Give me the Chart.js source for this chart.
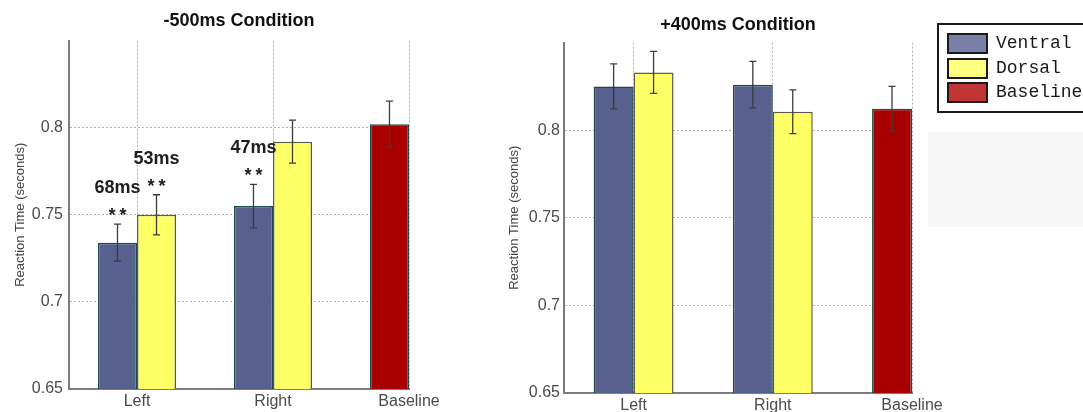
<!DOCTYPE html>
<html>
<head>
<meta charset="utf-8">
<script src="https://cdn.jsdelivr.net/npm/chart.js@4.4.1/dist/chart.umd.min.js"></script>
<style>
    body { margin: 0; background: #fff; width: 1083px; height: 412px; overflow: hidden; position: relative; }
    canvas { position: absolute; top: 0; }
    #early { left: 0; }
    #late { left: 480px; }
    #legend { position: absolute; left: 937px; top: 23px; width: 170px; height: 86px; border: 2px solid #1a1a1a; background: #fff; }
    #legend .sw { position: absolute; left: 8px; width: 37px; height: 17px; border: 2px solid #1a1a1a; }
    #legend .txt { position: absolute; left: 57px; font: 18px "Liberation Mono", "Courier New", monospace; color: #1a1a1a; line-height: 21px; }
    #shade { position: absolute; left: 928px; top: 132px; width: 160px; height: 95px; background: #f7f7f7; }
</style>
</head>
<body>
<canvas id="early" width="480" height="412"></canvas>
<canvas id="late" width="490" height="412"></canvas>
<div id="shade"></div>
<div id="legend"></div>

<script>
const categories = ['Left', 'Right', 'Baseline'];
const seriesNames = ['Ventral', 'Dorsal', 'Baseline'];
const yTicks = [0.65, 0.7, 0.75, 0.8];

// -500ms condition (reaction time in seconds, error = half bar length)
const earlyVentral = [0.734, 0.755];
const earlyVentralErr = [0.0106, 0.0125];
const earlyDorsal = [0.750, 0.792];
const earlyDorsalErr = [0.0115, 0.0123];
const earlyBaseline = [0.802];
const earlyBaselineErr = [0.0133];

// +400ms condition
const lateVentral = [0.825, 0.826];
const lateVentralErr = [0.0128, 0.0133];
const lateDorsal = [0.833, 0.8105];
const lateDorsalErr = [0.012, 0.0125];
const lateBaseline = [0.8123];
const lateBaselineErr = [0.0127];

// significance notes on the -500ms panel
const noteSeries = ['Ventral', 'Dorsal', 'Ventral'];
const noteCategory = ['Left', 'Left', 'Right'];
const noteDiff = ['68ms', '53ms', '47ms'];
const noteMark = ['**', '**', '**'];

const barColors = ['#57608e', '#ffff66', '#a80000'];
const barBorders = ['#1d4a48', '#5a5a4a', '#1d4a48'];
const legendColors = ['#7880aa', '#ffff80', '#c03535'];

function buildDatasets(ventral, ventralErr, dorsal, dorsalErr, baseline, baselineErr) {
    return [
        { label: seriesNames[0], stack: 'a', data: ventral.map((v, i) => ({x: i + 1, y: v})), errors: ventralErr },
        { label: seriesNames[1], stack: 'b', data: dorsal.map((v, i) => ({x: i + 1, y: v})), errors: dorsalErr },
        { label: seriesNames[2], stack: 'a', data: baseline.map(v => ({x: 3, y: v})), errors: baselineErr },
    ].map((ds, i) => Object.assign(ds, {
        backgroundColor: barColors[i],
        borderColor: barBorders[i],
        borderWidth: 1.5,
        categoryPercentage: 0.574,
        barPercentage: 1,
    }));
}

// Draw the error bars and the ms / ** notes on top of the bars
const errorBars = {
    id: 'errorBars',
    afterDatasetsDraw(chart, args, opts) {
        const ctx = chart.ctx;
        const y = chart.scales.y;
        const tops = {};
        chart.data.datasets.forEach((ds, di) => {
            chart.getDatasetMeta(di).data.forEach((bar, i) => {
                const v = ds.data[i].y;
                const e = ds.errors[i];
                const top = y.getPixelForValue(v + e);
                const bot = y.getPixelForValue(v - e);
                ctx.save();
                ctx.strokeStyle = '#3c3c3c';
                ctx.lineWidth = 1.3;
                ctx.beginPath();
                ctx.moveTo(bar.x, top); ctx.lineTo(bar.x, bot);
                ctx.moveTo(bar.x - 3.5, top); ctx.lineTo(bar.x + 3.5, top);
                ctx.moveTo(bar.x - 3.5, bot); ctx.lineTo(bar.x + 3.5, bot);
                ctx.stroke();
                ctx.restore();
                tops[ds.label + '|' + categories[ds.data[i].x - 1]] = {x: bar.x, y: top};
            });
        });
        if (!opts.notes) return;
        ctx.save();
        ctx.fillStyle = '#1e1e1e';
        ctx.textAlign = 'center';
        ctx.textBaseline = 'middle';
        ctx.font = 'bold 18px "Liberation Sans", Arial, sans-serif';
        noteDiff.forEach((label, i) => {
            const p = tops[noteSeries[i] + '|' + noteCategory[i]];
            ctx.letterSpacing = '0px';
            ctx.fillText(label, p.x, p.y - 36);
            ctx.letterSpacing = '4px';
            ctx.fillText(noteMark[i], p.x + 2, p.y - 8);
        });
        ctx.restore();
    }
};

function makeChart(id, title, datasets, layout) {
    return new Chart(document.getElementById(id), {
        type: 'bar',
        data: { datasets },
        plugins: [errorBars],
        options: {
            responsive: false,
            animation: false,
            devicePixelRatio: 1,
            layout: { padding: { left: 0, right: layout.padRight, top: 0, bottom: 0 } },
            plugins: {
                legend: { display: false },
                tooltip: { enabled: false },
                title: {
                    display: true,
                    fullSize: false,
                    text: title,
                    color: '#111',
                    font: { family: '"Liberation Sans", Arial, sans-serif', size: 18, weight: 'bold' },
                    padding: { top: layout.titleTop, bottom: layout.titleBottom },
                },
                errorBars: { notes: layout.notes },
            },
            scales: {
                x: {
                    type: 'linear',
                    stacked: true,
                    offset: false,
                    min: 0.5,
                    max: 3,
                    afterBuildTicks: s => { s.ticks = categories.map((c, i) => ({value: i + 1})); },
                    afterFit: s => { s.height = layout.xHeight; s.paddingLeft = 0; s.paddingRight = 0; },
                    ticks: {
                        callback: v => categories[v - 1],
                        color: '#4a4a4a',
                        font: { family: '"Liberation Sans", Arial, sans-serif', size: 16 },
                        padding: 3,
                        maxRotation: 0,
                        autoSkip: false,
                    },
                    grid: { offset: false, color: '#b4b4b4', lineWidth: 1, drawTicks: false },
                    border: { display: true, color: '#7c7c7c', width: 2, dash: [2, 2] },
                },
                y: {
                    stacked: false,
                    min: 0.65,
                    max: 0.85,
                    afterBuildTicks: s => { s.ticks = yTicks.map(v => ({value: v})); },
                    afterFit: s => { s.width = layout.yWidth; s.paddingTop = 0; s.paddingBottom = 0; },
                    ticks: {
                        callback: v => String(Number(v.toFixed(2))),
                        color: '#4a4a4a',
                        font: { family: '"Liberation Sans", Arial, sans-serif', size: 16 },
                        padding: layout.tickPad,
                    },
                    grid: { color: '#b4b4b4', lineWidth: 1, drawTicks: false },
                    border: { display: true, color: '#7c7c7c', width: 2, dash: [2, 2] },
                    title: {
                        display: true,
                        text: 'Reaction Time (seconds)',
                        color: '#444',
                        font: { family: '"Liberation Sans", Arial, sans-serif', size: 13 },
                        padding: { top: layout.yTitlePad, bottom: 0 },
                    },
                },
            },
        },
    });
}

makeChart('early', '-500ms Condition',
    buildDatasets(earlyVentral, earlyVentralErr, earlyDorsal, earlyDorsalErr, earlyBaseline, earlyBaselineErr),
    { padRight: 71, titleTop: 10, titleBottom: 9, xHeight: 23, yWidth: 69, tickPad: 6, yTitlePad: 13, notes: true });

makeChart('late', '+400ms Condition',
    buildDatasets(lateVentral, lateVentralErr, lateDorsal, lateDorsalErr, lateBaseline, lateBaselineErr),
    { padRight: 58, titleTop: 14, titleBottom: 7, xHeight: 19, yWidth: 84, tickPad: 4, yTitlePad: 27, notes: false });

// Legend box
const legend = document.getElementById('legend');
seriesNames.forEach((name, i) => {
    const top = 8 + i * 24.5;
    const sw = document.createElement('div');
    sw.className = 'sw';
    sw.style.top = top + 'px';
    sw.style.background = legendColors[i];
    const txt = document.createElement('div');
    txt.className = 'txt';
    txt.style.top = top + 'px';
    txt.textContent = name;
    legend.appendChild(sw);
    legend.appendChild(txt);
});
</script>
</body>
</html>
